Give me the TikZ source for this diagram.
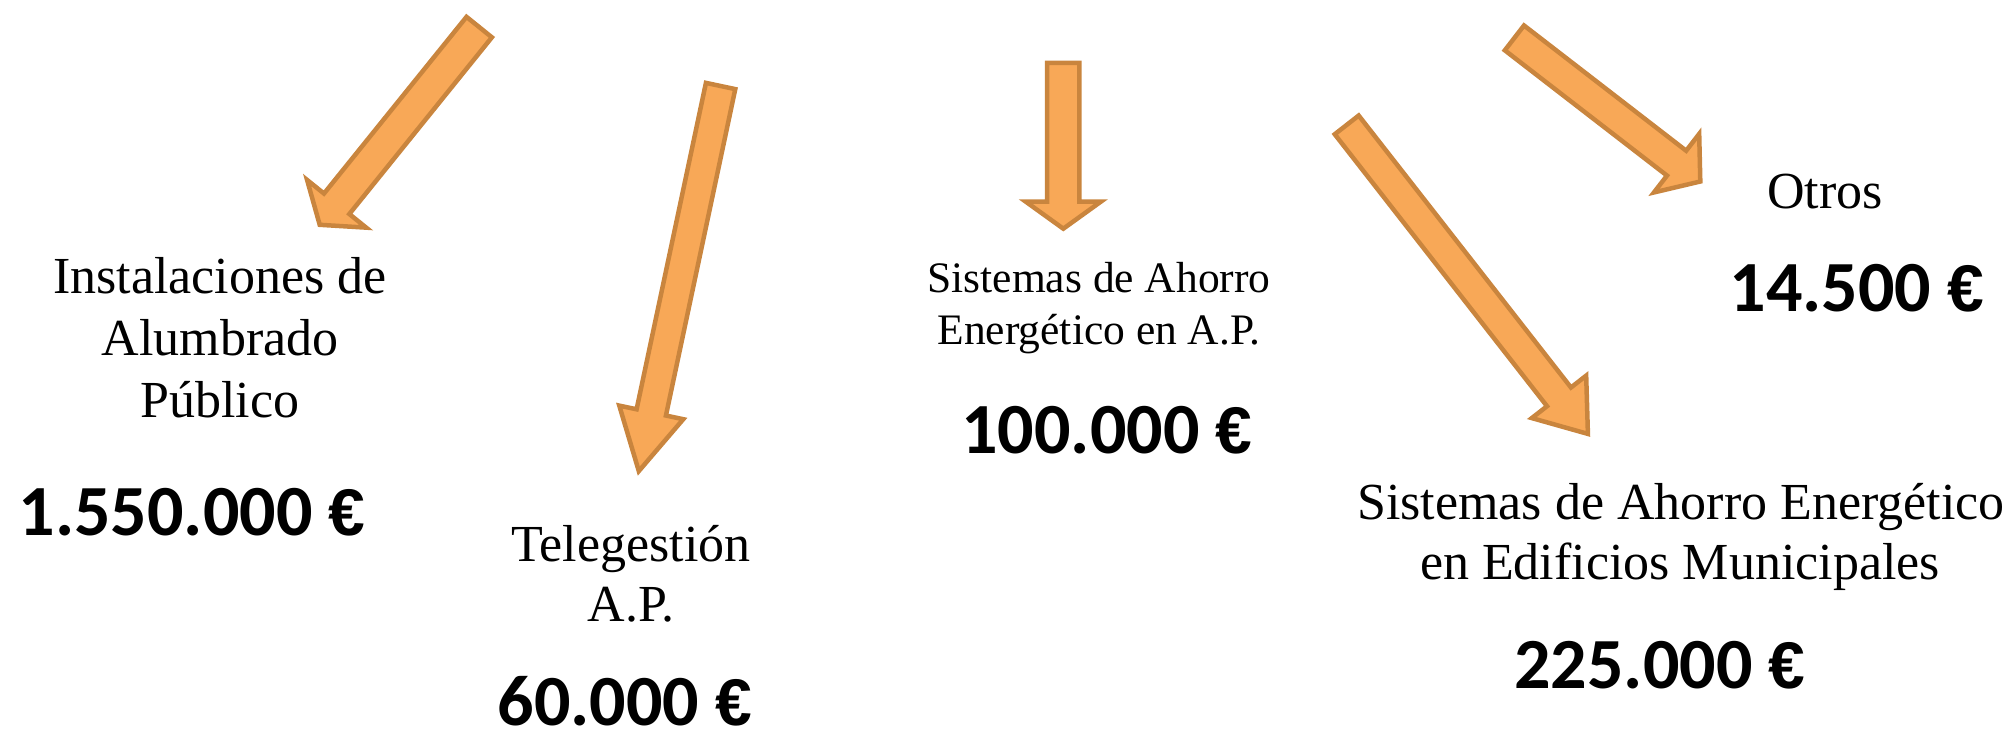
\documentclass[tikz,border=0pt]{standalone}
\usepackage{fontspec}
\setmainfont{Liberation Serif}
\newfontfamily\numfont{Carlito}
\newfontfamily\eurofont{Liberation Sans}
\usetikzlibrary{calc}
\definecolor{arrfill}{HTML}{F8A857}
\definecolor{arrdraw}{HTML}{C9853E}
\tikzset{
  bigarrow/.style={fill=arrfill, draw=arrdraw, line width=4.5pt, line join=miter},
  lbl/.style={anchor=base, inner sep=0pt, font=\fontsize{52}{62}\selectfont},
  lblsmall/.style={anchor=base, inner sep=0pt, font=\fontsize{43.5}{51}\selectfont},
  amount/.style={anchor=base, inner sep=0pt, font=\numfont\bfseries\fontsize{72}{80}\selectfont},
}
\newcommand{\eur}{{\eurofont\bfseries\fontsize{66}{80}\selectfont €}}
% #1 name, #2 tail, #3 tip, #4 half shaft width, #5 half head width, #6 head length
\newcommand{\fatarrow}[6]{%
  \coordinate (#1-t) at #2;
  \coordinate (#1-p) at #3;
  \coordinate (#1-h) at ($(#1-p)!#6!(#1-t)$);
  \draw[bigarrow] ($(#1-t)!#4!90:(#1-p)$) -- ($(#1-h)!#4!-90:(#1-t)$) -- ($(#1-h)!#5!-90:(#1-t)$) -- (#1-p)
     -- ($(#1-h)!#5!90:(#1-t)$) -- ($(#1-h)!#4!90:(#1-t)$) -- ($(#1-t)!#4!-90:(#1-p)$) -- cycle;}
\begin{document}
\begin{tikzpicture}[x=1pt,y=-1pt]
\useasboundingbox (0,0) rectangle (2015,730);
\clip (0,0) rectangle (2015,730);
% arrows
\fatarrow{a1}{(479.2,27.1)}{(319.7,224.8)}{16.3pt}{38pt}{27pt}
\fatarrow{a2}{(720.6,86)}{(638.8,471.1)}{15pt}{32.7pt}{60pt}
\fatarrow{a3}{(1063.3,63)}{(1063.3,228.7)}{16.1pt}{37.5pt}{27pt}
\fatarrow{a4}{(1346.7,124.9)}{(1587.9,433.9)}{15.2pt}{34.5pt}{47pt}
\fatarrow{a5}{(1514.4,37.9)}{(1700.3,181.5)}{15.7pt}{37pt}{30pt}
% labels
\node[lbl] (l1a) at (220,293) {Instalaciones de};
\node[lbl] (l1b) at (220,355) {Alumbrado};
\node[lbl] (l1c) at (220,417) {Público};
\node[amount] (n1) at (192,535) {1.550.000 \eur};
\node[lbl] (l2a) at (631,561) {Telegestión};
\node[lbl] (l2b) at (631,621) {A.P.};
\node[amount] (n2) at (625,725) {60.000 \eur};
\node[lblsmall] (l3a) at (1099,292) {Sistemas de Ahorro};
\node[lblsmall] (l3b) at (1099,344) {Energético en A.P.};
\node[amount] (n3) at (1107,453) {100.000 \eur};
\node[lbl] (l4a) at (1681,519) {Sistemas de Ahorro Energético};
\node[lbl] (l4b) at (1680,579) {en Edificios Municipales};
\node[amount] (n4) at (1660,688) {225.000 \eur};
\node[lbl] (l5) at (1825,208) {Otros};
\node[amount] (n5) at (1857,311) {14.500 \eur};
\end{tikzpicture}
\end{document}
